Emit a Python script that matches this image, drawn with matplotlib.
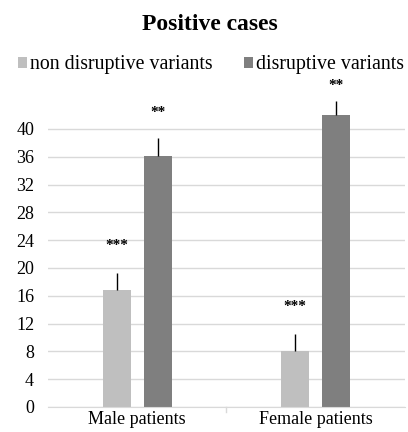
import matplotlib.pyplot as plt
import numpy as np

# Data
categories = ['Male patients', 'Female patients']
series_names = ['non disruptive variants', 'disruptive variants']
non_disruptive = [16.9, 8.0]
disruptive = [36.1, 42.0]
non_disruptive_err = [2.4, 2.5]
disruptive_err = [2.6, 2.0]
non_disruptive_sig = ['***', '***']
disruptive_sig = ['**', '**']
sig_height_non = [23.3, 14.4]
sig_height_dis = [42.3, 46.3]
yticks = list(range(0, 41, 4))

plt.rcParams['font.family'] = ['Liberation Serif', 'DejaVu Serif']

colors = ['#bfbfbf', '#7f7f7f']

fig = plt.figure(figsize=(4.08, 4.32), dpi=100)
ax = fig.add_axes([0.1176, 0.0579, 0.875, 0.716])

x = np.arange(len(categories))
width = 0.157
offset = (width + 0.073) / 2

for vals, errs, col, sign, sig_y, shift, name in [
    (non_disruptive, non_disruptive_err, colors[0], non_disruptive_sig, sig_height_non, -offset, series_names[0]),
    (disruptive, disruptive_err, colors[1], disruptive_sig, sig_height_dis, offset, series_names[1]),
]:
    ax.bar(x + shift, vals, width, color=col, label=name, zorder=2)
    ax.errorbar(x + shift, vals, yerr=[np.zeros(len(vals)), errs], fmt='none',
                ecolor='black', elinewidth=1, capsize=0, zorder=3)
    for xi, s, sy in zip(x + shift, sign, sig_y):
        ax.text(xi, sy, s, ha='center', va='center', fontsize=11, fontweight='bold')

ax.set_xlim(-0.5, 1.5)
ax.set_ylim(0, 44.5)
ax.set_yticks(yticks)
ax.set_xticks(x)
ax.set_xticklabels(categories, fontsize=13)
ax.tick_params(axis='y', length=0, labelsize=13, pad=10)
ax.tick_params(axis='x', length=0, pad=3)
# small tick between the two category groups
ax.plot([0.5, 0.5], [0, -0.7], color='#d9d9d9', lw=1, clip_on=False)

ax.yaxis.grid(True, color='#d9d9d9', lw=1, zorder=0)
ax.set_axisbelow(True)
for side in ['top', 'right', 'left']:
    ax.spines[side].set_visible(False)
ax.spines['bottom'].set_color('#d9d9d9')

fig.suptitle('Positive cases', fontsize=17, fontweight='bold', x=0.515, y=0.968)
fig.legend(loc='center', bbox_to_anchor=(0.517, 0.85), ncol=2, frameon=False,
           fontsize=14.3, handlelength=0.45, handleheight=0.45, handletextpad=0.15,
           columnspacing=1.6)

plt.savefig('out.png', dpi=100)
